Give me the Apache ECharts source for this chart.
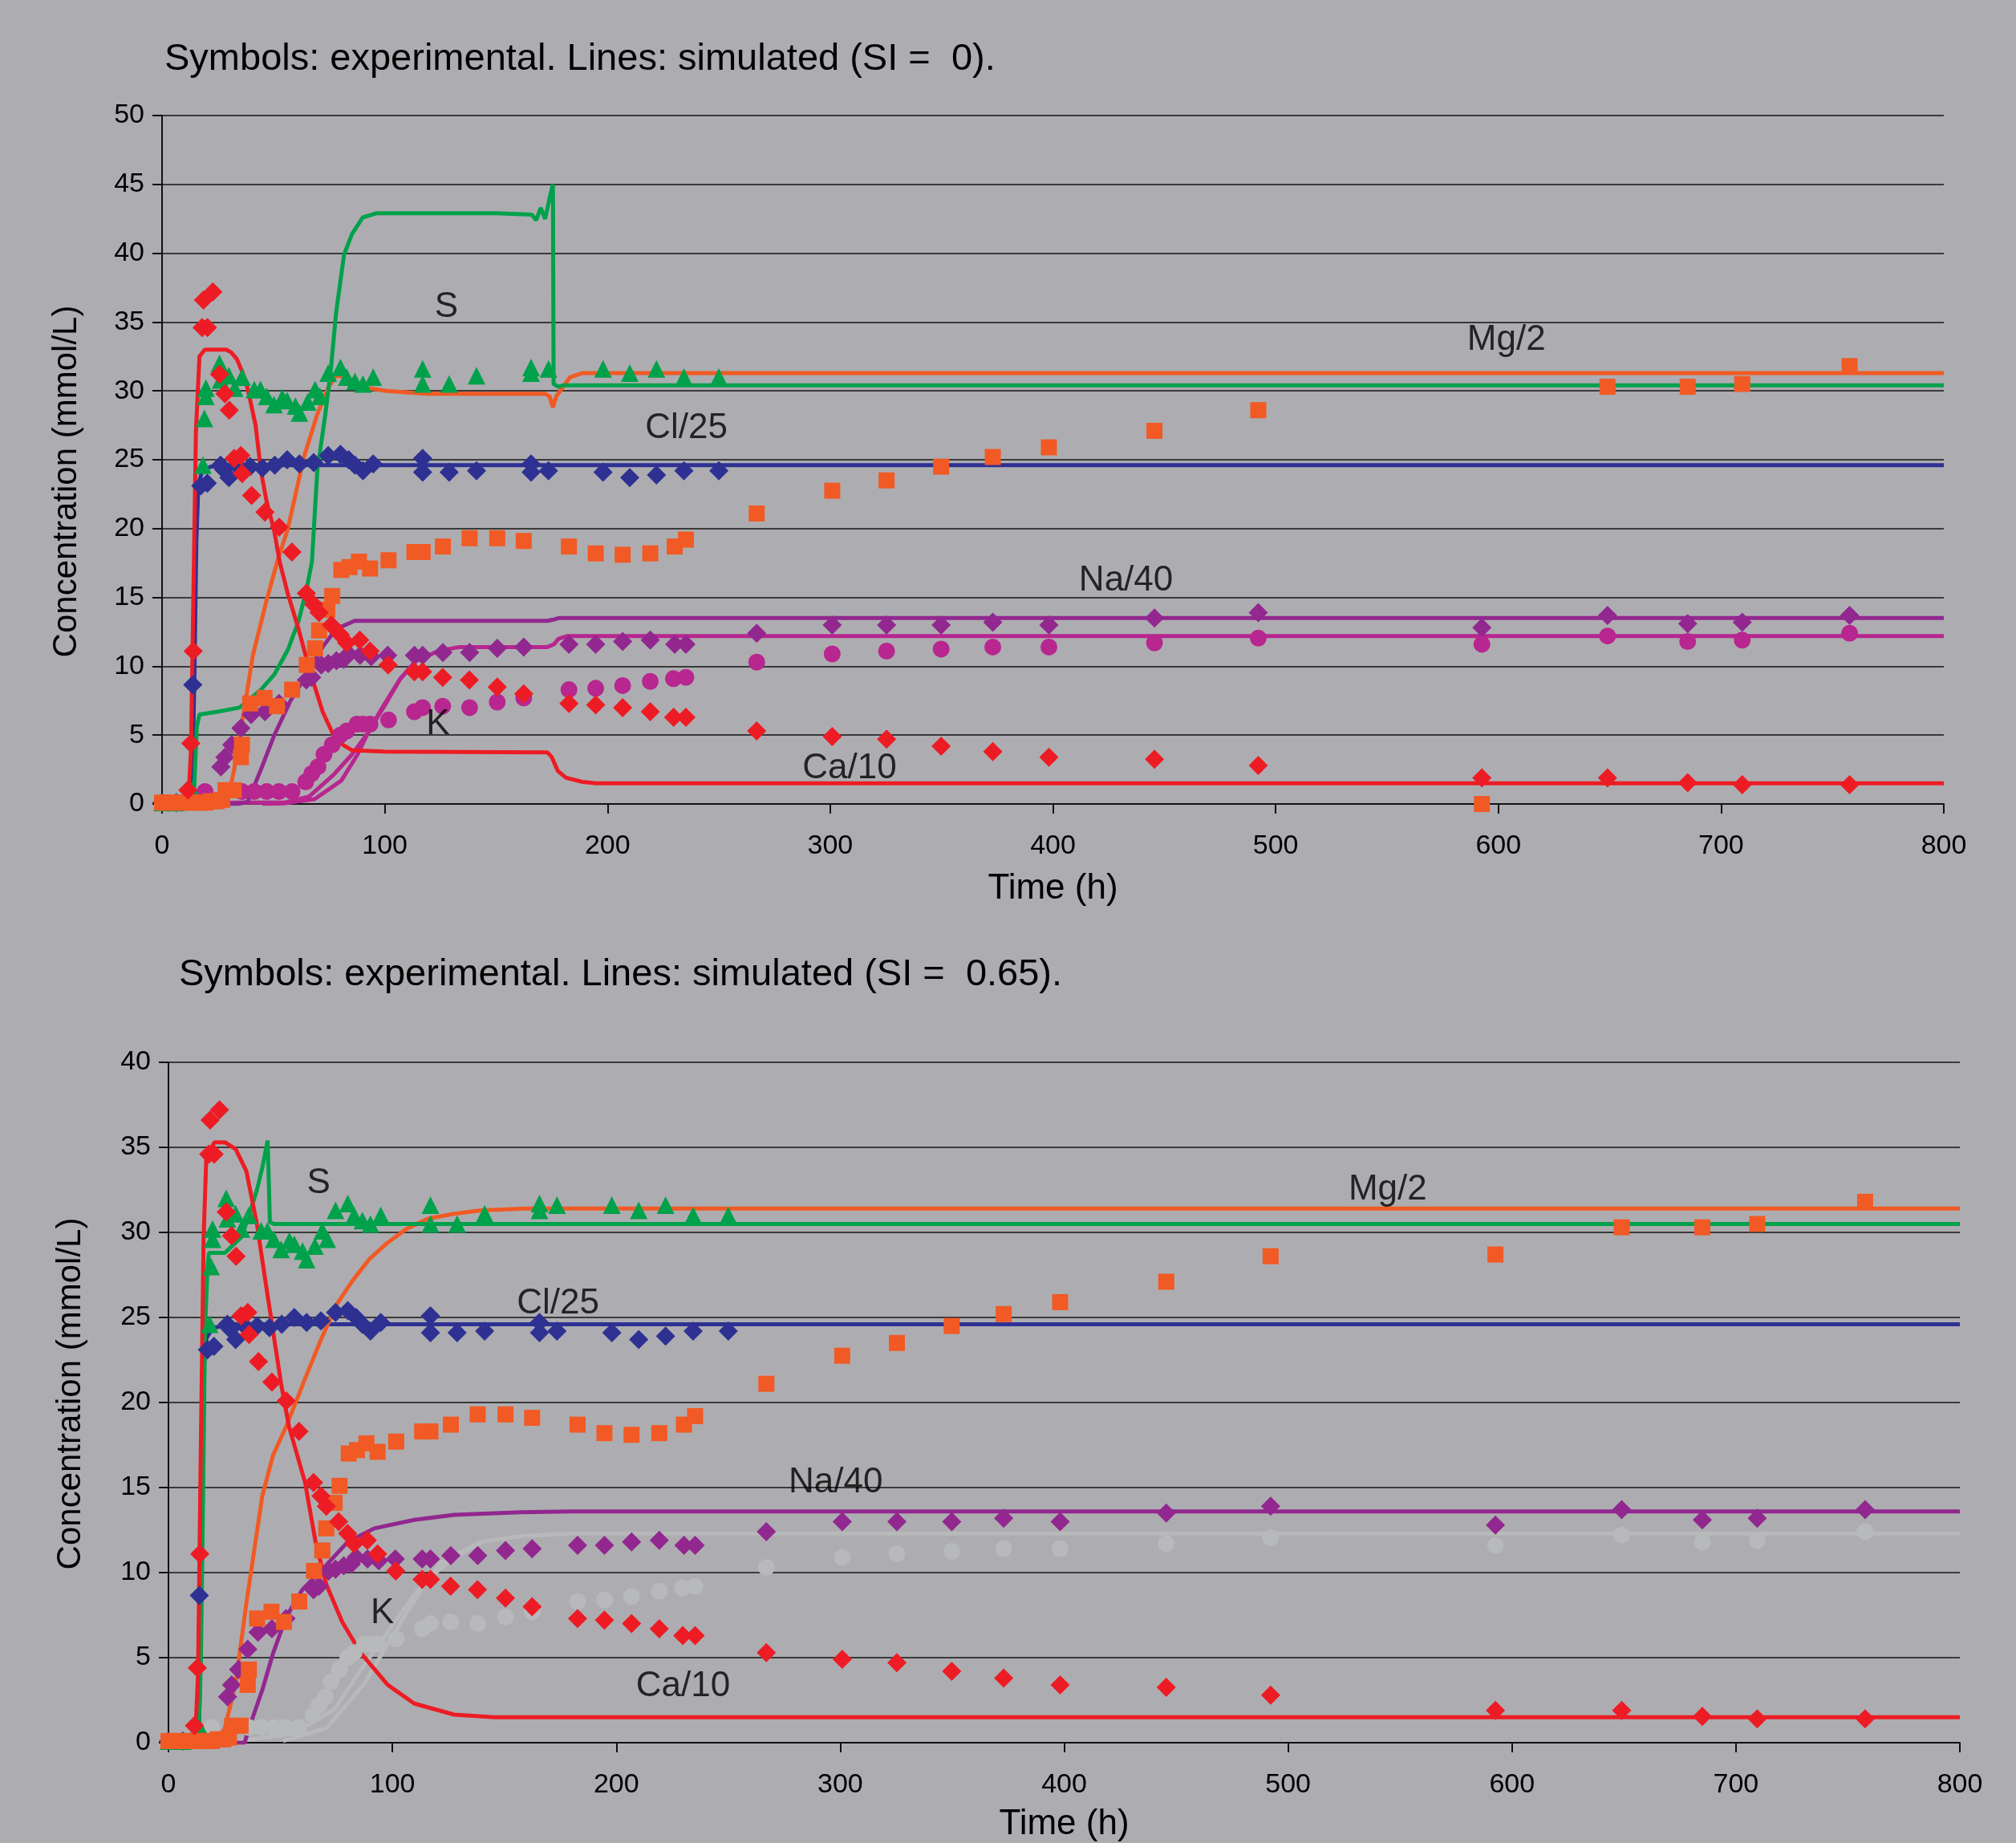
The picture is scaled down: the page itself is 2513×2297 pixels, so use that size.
<!DOCTYPE html>
<html>
<head>
<meta charset="utf-8">
<title>Concentration vs time</title>
<script src="https://cdn.jsdelivr.net/npm/echarts@6/dist/echarts.min.js"></script>
<style>
    html, body { margin: 0; padding: 0; background: #adadb1; }
    #chart { width: 2513px; height: 2297px; }
</style>
</head>
<body>
<div id="chart"></div>
<script>
const FONT = '"Liberation Sans", Arial, sans-serif'

// tick settings
const xTicks = { min: 0, max: 800, interval: 100 }
const yTicksTop = { min: 0, max: 50, interval: 5 }
const yTicksBottom = { min: 0, max: 40, interval: 5 }

const titleTop = 'Symbols: experimental. Lines: simulated (SI =  0).'
const titleBottom = 'Symbols: experimental. Lines: simulated (SI =  0.65).'
const yName = 'Concentration (mmol/L)'

// curve labels and where they sit (data coords)
const labelNames = ['S', 'Mg/2', 'Cl/25', 'Na/40', 'K', 'Ca/10']
const labelPosTop = [[127.7, 36.1], [603.6, 33.7], [235.4, 27.3], [432.8, 16.2], [123.9, 5.8], [308.7, 2.6]]
const labelPosBottom = [[67.1, 32.9], [544.5, 32.5], [174, 25.8], [298, 15.3], [95.5, 7.6], [229.8, 3.3]]

// experimental points (same measurements in both panels)
const caExp = [[11.6, 1.0], [12.9, 4.4], [14, 11.1], [18, 34.6], [20.4, 34.6], [18.6, 36.6], [22.8, 37.2], [25.8, 31.2], [28.2, 29.8], [30.2, 28.6], [32.4, 25.1], [35.4, 25.3], [36, 24.0], [40.2, 22.4], [46.2, 21.2], [52.6, 20.1], [58.3, 18.3], [64.8, 15.3], [68.1, 14.5], [70.5, 13.9], [76, 13.0], [80, 12.3], [82.9, 11.7], [88.8, 11.9], [93.4, 11.1], [101.5, 10.1], [113.3, 9.6], [117, 9.6], [126, 9.2], [138, 9.0], [150.5, 8.5], [162.4, 8.0], [182.7, 7.3], [194.7, 7.2], [206.8, 7.0], [219.2, 6.7], [229.7, 6.3], [235.2, 6.3], [267, 5.3], [300.9, 4.9], [325.3, 4.7], [349.8, 4.2], [373, 3.8], [398.2, 3.4], [445.6, 3.25], [492.2, 2.8], [592.6, 1.9], [649, 1.9], [685, 1.55], [709.5, 1.4], [757.7, 1.4]]
const clExp = [[0, 0.1], [6.4, 0.1], [13.8, 8.65], [17.4, 23.1], [20.3, 23.3], [26.3, 24.6], [27.6, 24.3], [30, 23.7], [34, 24.5], [39.6, 24.5], [45.1, 24.4], [50.6, 24.6], [56.2, 25.0], [61.7, 24.7], [68.1, 24.8], [74.6, 25.3], [80.1, 25.4], [83.8, 25.0], [86.6, 24.6], [90.2, 24.2], [94.8, 24.7], [117, 25.1], [117, 24.1], [128.9, 24.1], [141.2, 24.2], [165.7, 24.7], [165.7, 24.1], [173.5, 24.2], [198, 24.1], [210, 23.7], [222, 23.9], [234.3, 24.2], [250, 24.2]]
const sExp = [[0, 0.1], [6.4, 0.1], [13.5, 1.0], [18.4, 24.6], [19, 28.0], [19.7, 29.6], [19.7, 30.2], [25.8, 32.0], [26.3, 30.8], [30, 31.1], [32.6, 30.2], [35.9, 31.0], [41.4, 30.1], [44.2, 30.1], [47, 29.6], [50.3, 29.0], [54, 29.5], [56.2, 29.3], [59.9, 28.9], [61.7, 28.4], [65.4, 29.2], [68.7, 30.1], [70.9, 29.6], [74.6, 31.3], [80.1, 31.7], [82.9, 31.0], [86.6, 30.7], [90.2, 30.5], [94.8, 31.0], [117, 31.6], [117, 30.5], [128.9, 30.5], [141.2, 31.1], [165.7, 31.7], [165.7, 31.3], [173.5, 31.6], [198, 31.6], [210, 31.3], [222, 31.6], [234.3, 31.0], [250, 31.0]]
const mgExp = [[0, 0.1], [2.5, 0.1], [5, 0.1], [9, 0.1], [12, 0.1], [14.5, 0.1], [17, 0.1], [19.5, 0.1], [22, 0.2], [24.5, 0.2], [27, 0.3], [28.5, 1.0], [32.2, 1.0], [35.4, 3.4], [35.9, 4.3], [39.6, 7.3], [46, 7.7], [51.6, 7.1], [58.4, 8.3], [65, 10.1], [68.7, 11.3], [70.5, 12.6], [74.2, 14.1], [76.4, 15.1], [80.5, 17.0], [84.2, 17.2], [88.4, 17.6], [93.4, 17.1], [101.7, 17.7], [113.3, 18.3], [117, 18.3], [126.1, 18.7], [138.1, 19.3], [150.5, 19.3], [162.4, 19.1], [182.7, 18.7], [194.7, 18.2], [206.8, 18.1], [219.2, 18.2], [230.2, 18.7], [235.2, 19.2], [267, 21.1], [300.9, 22.75], [325.3, 23.5], [349.8, 24.5], [373, 25.2], [398.2, 25.9], [445.6, 27.1], [492.2, 28.6], [649, 30.3], [685, 30.3], [709.5, 30.5], [757.7, 31.8]]
const mgExpLateTop = [[592.6, 0]]
const mgExpLateBottom = [[592.6, 28.7]]
const naExp = [[26.4, 2.7], [28.2, 3.4], [31.3, 4.3], [35.4, 5.5], [40, 6.5], [46.2, 6.7], [52.5, 7.3], [64.8, 9.0], [67.2, 9.2], [71.5, 10.1], [74.6, 10.2], [78.3, 10.4], [81.6, 10.5], [83.8, 10.9], [88.9, 10.8], [93.9, 10.7], [101.3, 10.8], [113.3, 10.8], [117, 10.8], [126.1, 11.0], [138.1, 11.0], [150.5, 11.3], [162.4, 11.4], [182.7, 11.6], [194.7, 11.6], [206.8, 11.8], [219.2, 11.9], [230.2, 11.6], [235.2, 11.6], [267, 12.4], [300.9, 13.0], [325.3, 13.0], [349.8, 13.0], [373, 13.2], [398.2, 13.0], [445.6, 13.5], [492.2, 13.9], [592.6, 12.8], [649, 13.7], [685, 13.1], [709.5, 13.2], [757.7, 13.7]]
const kExp = [[19.3, 0.9], [35.9, 0.9], [41.4, 0.9], [47, 0.9], [52.5, 0.9], [58.4, 0.9], [64.5, 1.6], [67.2, 2.2], [70, 2.7], [72.7, 3.6], [76.4, 4.3], [80.1, 5.0], [82.9, 5.3], [87.5, 5.8], [90.2, 5.8], [93.4, 5.8], [101.7, 6.1], [113.3, 6.7], [117, 7.0], [126, 7.1], [138.1, 7.0], [150.5, 7.4], [162.4, 7.7], [182.7, 8.3], [194.7, 8.4], [206.8, 8.6], [219.2, 8.9], [229.6, 9.1], [235.2, 9.2], [267, 10.3], [300.9, 10.9], [325.3, 11.1], [349.8, 11.25], [373, 11.4], [398.2, 11.4], [445.6, 11.7], [492.2, 12.05], [592.6, 11.6], [649, 12.2], [685, 11.8], [709.5, 11.9], [757.7, 12.4]]

// simulated curves, SI = 0
const caSimTop = [[0, 0], [11, 0], [12, 0.8], [13, 4], [14.3, 17.6], [15.2, 27], [16.8, 32.5], [19.2, 33.0], [28.8, 33.0], [31, 32.8], [33.6, 32.3], [36, 31.4], [38.4, 30.2], [42, 27.5], [44.4, 24.2], [46.8, 22.1], [50.4, 19.8], [52.8, 17.6], [56.5, 15.25], [61.3, 12.7], [66.1, 9.8], [72.1, 6.7], [78.1, 4.6], [85.3, 3.9], [100, 3.8], [173, 3.75], [175, 3.4], [177.7, 2.4], [181.4, 1.9], [188.8, 1.6], [195, 1.5], [800, 1.5]]
const clSimTop = [[0, 0], [13, 0], [13.8, 3], [14.6, 10], [15.4, 19], [16.3, 23.2], [18, 24.2], [22, 24.5], [30, 24.6], [800, 24.6]]
const sSimTop = [[0, 0], [12.5, 0], [13.5, 0.3], [14.3, 0.7], [15.6, 5.6], [16.8, 6.5], [25, 6.7], [34.8, 7.0], [44.4, 8.3], [50.4, 9.4], [56.5, 11.2], [61.3, 13.3], [64.9, 15.6], [67.3, 17.6], [69.7, 24.2], [73.3, 28.3], [75.7, 31.4], [78.1, 35.6], [81.7, 39.9], [85.3, 41.4], [90.1, 42.6], [96.2, 42.9], [150, 42.9], [166, 42.8], [168, 42.4], [170, 43.3], [172, 42.5], [174, 44.0], [175.5, 45.0], [175.8, 30.5], [178, 30.3], [180, 30.4], [800, 30.4]]
const mgSimTop = [[0, 0], [28.8, 0.05], [30.5, 1], [32.4, 2.5], [34, 4], [36, 6.0], [40.8, 10.8], [46.8, 14.7], [51.7, 17.6], [56.5, 20.0], [63.7, 25.2], [69.7, 28.3], [74.5, 30.2], [78.1, 31.1], [82.9, 31.0], [92.6, 30.2], [101, 30.0], [119, 29.8], [172, 29.8], [174, 29.6], [175.5, 28.8], [177, 29.6], [179.6, 30.2], [183.2, 31.0], [188.8, 31.3], [800, 31.3]]
const naSimTop = [[0, 0], [34, 0], [38.4, 0.15], [44.4, 2.5], [50.4, 5.0], [57.7, 7.5], [64.9, 9.4], [72.1, 11.4], [78.1, 12.7], [86.5, 13.3], [100, 13.3], [173, 13.3], [176, 13.4], [178, 13.5], [800, 13.5]]
const kSimTopA = [[0, 0], [34.8, 0.1], [55.3, 0.1], [66.1, 0.54], [76.9, 2.1], [85.3, 3.6], [92.6, 5.2], [99.8, 7.1], [107, 9.1], [114.2, 10.4], [123.9, 11.1], [133.5, 11.4], [173, 11.4], [176, 11.6], [178, 12.0], [182, 12.2], [800, 12.2]]
const kSimTopB = [[45, 0], [55.3, 0.05], [68.5, 0.35], [80.5, 1.7], [87.8, 3.6], [93.8, 5.6], [100, 7.3], [107, 9.1], [114, 10.4]]

// simulated curves, SI = 0.65
const caSimBottom = [[0, 0], [11, 0], [12, 0.5], [13.2, 4], [14.5, 17.9], [15.7, 29.7], [16.9, 34.4], [20.5, 35.3], [25.2, 35.3], [30, 34.9], [34.8, 33.6], [39.5, 30.5], [43.1, 27.3], [46.7, 24.2], [50.3, 21.1], [53.8, 18.6], [61, 15.3], [65.7, 11.8], [70.5, 9.3], [77.6, 7.1], [86, 5.25], [97.9, 3.4], [109.8, 2.3], [127.6, 1.65], [145.5, 1.5], [800, 1.5]]
const clSimBottom = [[0, 0], [13.5, 0], [14.3, 5], [15, 15], [15.8, 22], [17, 23.8], [20, 24.4], [30, 24.6], [800, 24.6]]
const sSimBottom = [[0, 0], [12.5, 0], [13.5, 0.5], [14.5, 5], [15.5, 15], [16.3, 24.2], [17.5, 28.1], [18.1, 28.8], [25.2, 28.8], [27.6, 29.1], [32.4, 29.7], [36, 31.0], [39.5, 32.5], [41.9, 33.8], [44.3, 35.4], [45.3, 30.6], [47, 30.5], [800, 30.5]]
const mgSimBottom = [[0, 0], [22.6, 0], [24, 0.3], [26.4, 1.5], [30, 3.5], [34.8, 8.2], [38.4, 11.4], [41.9, 14.5], [46.7, 16.9], [52.6, 18.6], [61, 21.4], [68.1, 23.7], [75.3, 25.8], [82.4, 27.2], [89.5, 28.4], [97.9, 29.4], [106.2, 30.2], [115.7, 30.8], [127.6, 31.1], [139.5, 31.3], [160, 31.4], [800, 31.4]]
const naSimBottom = [[0, 0], [34, 0], [36, 0.86], [41.9, 3.1], [46.7, 5.25], [52.6, 7.4], [59.8, 9.0], [68.1, 10.1], [80, 11.8], [91.9, 12.6], [109.8, 13.1], [127.6, 13.4], [157.4, 13.55], [180, 13.6], [800, 13.6]]
const kSimBottomA = [[0, 0], [32.4, 0.1], [56.2, 0.55], [74.1, 1.96], [86, 4.3], [97.9, 6.5], [109.8, 8.7], [121.7, 10.6], [139.5, 11.8], [157.4, 12.15], [180, 12.3], [800, 12.3]]
const kSimBottomB = [[51.2, 0.1], [70.5, 0.86], [87.1, 3.4], [103.8, 7.1], [115.7, 9.6], [127.6, 10.9], [140, 11.8]]

const colors = {
    ca: '#ed1c24',
    cl: '#2e3192',
    s: '#00a14b',
    mg: '#f15a24',
    na: '#92278f',
    k: '#b8268f',
    kGray: '#b8b9ba',
}

const chart = echarts.init(document.getElementById('chart'))

function simLine(data, color, idx) {
    return {
        type: 'line',
        xAxisIndex: idx,
        yAxisIndex: idx,
        data: data,
        symbol: 'none',
        showSymbol: false,
        lineStyle: { color: color, width: 5 },
        z: 2,
    }
}

function expPoints(data, symbol, size, color, idx) {
    return {
        type: 'scatter',
        xAxisIndex: idx,
        yAxisIndex: idx,
        data: data,
        symbol: symbol,
        symbolSize: size,
        itemStyle: { color: color, opacity: 1 },
        z: 3,
    }
}

function curveLabels(positions, idx) {
    return {
        type: 'scatter',
        xAxisIndex: idx,
        yAxisIndex: idx,
        symbolSize: 0,
        silent: true,
        itemStyle: { color: 'transparent' },
        data: positions.map((p, i) => ({ value: p, name: labelNames[i] })),
        label: {
            show: true,
            position: [0, 0],
            align: 'center',
            verticalAlign: 'middle',
            formatter: '{b}',
            fontSize: 44,
            color: '#000',
            textBorderWidth: 0,
            fontFamily: FONT,
        },
        z: 5,
    }
}

function xAxis(idx, gap) {
    return {
        type: 'value',
        gridIndex: idx,
        ...xTicks,
        name: 'Time (h)',
        nameLocation: 'middle',
        nameGap: gap,
        nameTextStyle: { fontSize: 44, color: '#000', fontFamily: FONT },
        axisLine: { show: true, onZero: false, lineStyle: { color: '#111', width: 2 } },
        axisTick: { show: true, length: 12, lineStyle: { color: '#111', width: 2 } },
        axisLabel: { fontSize: 34, color: '#000', margin: 36, fontFamily: FONT },
        splitLine: { show: false },
    }
}

function yAxis(idx, ticks) {
    return {
        type: 'value',
        gridIndex: idx,
        ...ticks,
        axisLine: { show: true, lineStyle: { color: '#111', width: 2 } },
        axisTick: { show: true, length: 12, lineStyle: { color: '#111', width: 2 } },
        axisLabel: { fontSize: 34, color: '#000', margin: 22, fontFamily: FONT },
        splitLine: { show: true, lineStyle: { color: '#3a3a3a', width: 2 } },
    }
}

// vertical axis titles, placed by hand (the top one sits below the axis middle)
function yTitle(x, y) {
    return {
        type: 'text',
        x: x,
        y: y,
        rotation: Math.PI / 2,
        style: {
            text: yName,
            fill: '#000',
            font: '42px ' + FONT,
            textAlign: 'center',
            textVerticalAlign: 'middle',
        },
    }
}

const series = [
    // top panel lines
    simLine(kSimTopB, colors.k, 0),
    simLine(kSimTopA, colors.k, 0),
    simLine(naSimTop, colors.na, 0),
    simLine(clSimTop, colors.cl, 0),
    simLine(mgSimTop, colors.mg, 0),
    simLine(sSimTop, colors.s, 0),
    simLine(caSimTop, colors.ca, 0),
    // top panel points
    expPoints(kExp, 'circle', 21, colors.k, 0),
    expPoints(naExp, 'diamond', 24, colors.na, 0),
    expPoints(clExp, 'diamond', 24, colors.cl, 0),
    expPoints(sExp, 'triangle', 22, colors.s, 0),
    expPoints(mgExp.concat(mgExpLateTop), 'rect', 20, colors.mg, 0),
    expPoints(caExp, 'diamond', 24, colors.ca, 0),
    curveLabels(labelPosTop, 0),
    // bottom panel lines
    simLine(kSimBottomB, colors.kGray, 1),
    simLine(kSimBottomA, colors.kGray, 1),
    simLine(naSimBottom, colors.na, 1),
    simLine(clSimBottom, colors.cl, 1),
    simLine(mgSimBottom, colors.mg, 1),
    simLine(sSimBottom, colors.s, 1),
    simLine(caSimBottom, colors.ca, 1),
    // bottom panel points
    expPoints(kExp, 'circle', 21, colors.kGray, 1),
    expPoints(naExp, 'diamond', 24, colors.na, 1),
    expPoints(clExp, 'diamond', 24, colors.cl, 1),
    expPoints(sExp, 'triangle', 22, colors.s, 1),
    expPoints(mgExp.concat(mgExpLateBottom), 'rect', 20, colors.mg, 1),
    expPoints(caExp, 'diamond', 24, colors.ca, 1),
    curveLabels(labelPosBottom, 1),
]

chart.setOption({
    animation: false,
    backgroundColor: '#adadb1',
    textStyle: { fontFamily: FONT },
    title: [
        {
            text: titleTop,
            left: 200,
            top: 46,
            textStyle: { fontSize: 47, fontWeight: 'normal', color: '#000', fontFamily: FONT },
        },
        {
            text: titleBottom,
            left: 218,
            top: 1187,
            textStyle: { fontSize: 47, fontWeight: 'normal', color: '#000', fontFamily: FONT },
        },
    ],
    graphic: [yTitle(83, 600), yTitle(88, 1737)],
    grid: [
        { left: 202, right: 90, top: 144, height: 858 },
        { left: 210, right: 70, top: 1324, height: 848 },
    ],
    xAxis: [xAxis(0, 84), xAxis(1, 80)],
    yAxis: [yAxis(0, yTicksTop), yAxis(1, yTicksBottom)],
    series: series,
})
</script>
</body>
</html>
